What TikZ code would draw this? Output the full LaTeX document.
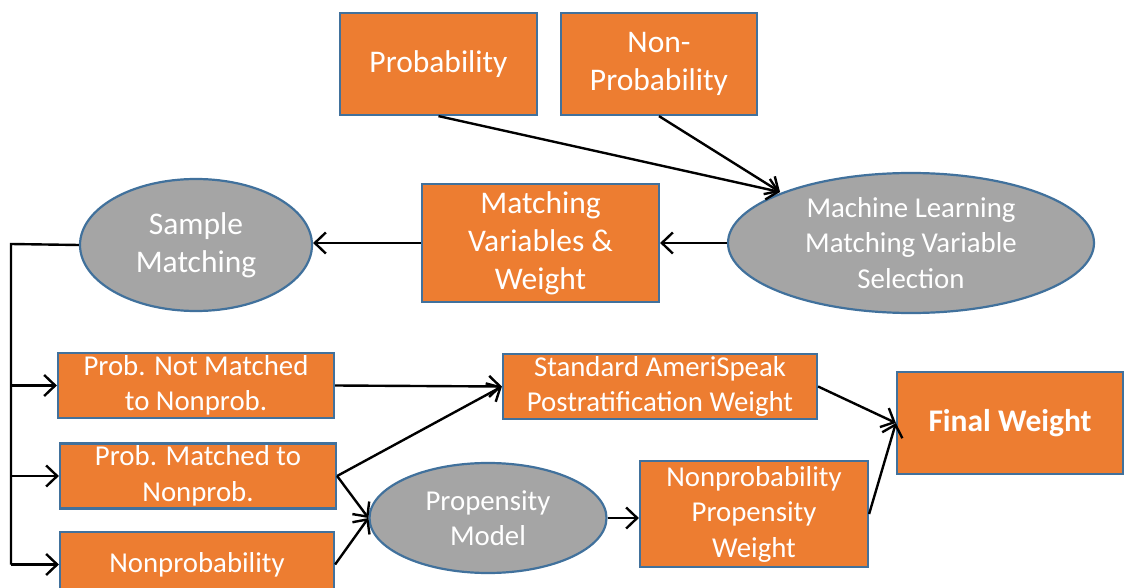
\documentclass[tikz,border=0pt]{standalone}
\usepackage{fontspec}
\setmainfont{Carlito}
\usetikzlibrary{shapes.geometric,arrows.meta}
\definecolor{boxfill}{HTML}{ED7D31}
\definecolor{edgeblue}{HTML}{41719C}
\definecolor{ovalfill}{HTML}{A5A5A5}
\tikzset{
  obox/.style={draw=edgeblue, line width=2.2pt, fill=boxfill, text=white, align=center, inner sep=0pt, rectangle},
  oval/.style={draw=edgeblue, line width=2.2pt, fill=ovalfill, text=white, align=center, inner sep=0pt, ellipse},
  big/.style={font=\fontsize{31.5}{38}\selectfont},
  small/.style={font=\fontsize{28.8}{35.5}\selectfont},
  conn/.style={line width=2.4pt, -{Straight Barb[length=11pt,width=21pt,line width=2.4pt]}},
  plain/.style={line width=2.4pt}
}
\begin{document}
\begin{tikzpicture}[x=1pt,y=-1pt]
\useasboundingbox (0,0) rectangle (1125,588);
\clip (0,0) rectangle (1125,588);
% top nodes
\node[obox,big,minimum width=197pt,minimum height=102pt] (prob) at (438.5,64) {Probability};
\node[obox,big,minimum width=196pt,minimum height=102pt] (nonprob) at (659,64) {Non-\\Probability};
\node[oval,small,minimum width=366pt,minimum height=140pt] (ml) at (911,243) {Machine Learning\\Matching Variable\\Selection};
\node[obox,big,minimum width=237pt,minimum height=118pt] (mvw) at (540.5,243) {Matching\\Variables \&\\Weight};
\node[oval,big,minimum width=232pt,minimum height=132pt] (sm) at (196,245) {Sample\\Matching};
% left column
\node[obox,small,minimum width=276pt,minimum height=65pt] (pnm) at (196,385.5) {Prob. Not Matched\\to Nonprob.};
\node[obox,small,minimum width=276pt,minimum height=65pt] (pm) at (198,476) {Prob. Matched to\\Nonprob.};
\node[obox,small,minimum width=274pt,minimum height=65pt] (np) at (197,564.5) {Nonprobability};
% middle / right
\node[obox,small,minimum width=314pt,minimum height=65pt] (std) at (660,386.5) {Standard AmeriSpeak\\Postratification Weight};
\node[oval,small,minimum width=237pt,minimum height=110pt] (prop) at (488,518) {Propensity\\Model};
\node[obox,small,minimum width=228pt,minimum height=106pt] (npw) at (754,514) {Nonprobability\\Propensity\\Weight};
\node[obox,minimum width=226pt,minimum height=102pt,font=\fontsize{31.5}{38}\selectfont\bfseries] (fw) at (1010,423) {Final Weight};
% connectors
\coordinate (mlin) at (780,192);
\coordinate (bus) at (11,244);
\draw[conn] (prob.south) -- (mlin);
\draw[conn] (nonprob.south) -- (mlin);
\draw[conn] (ml.west) -- (mvw.east);
\draw[conn] (mvw.west) -- (mvw.west -| sm.east);
\draw[plain] (sm.west) -- (bus) -- (bus |- np.west);
\draw[conn] (bus |- pnm.west) -- (pnm.west);
\draw[conn] (bus |- pm.west) -- (pm.west);
\draw[conn] (bus |- np.west) -- (np.west);
\draw[conn] (pnm.east) -- (std.west);
\draw[conn] (pm.east) -- (std.west);
\draw[conn] (pm.east) -- (prop.west);
\draw[conn] (np.east) -- (prop.west);
\draw[conn] (prop.east) -- (prop.east -| npw.west);
\draw[conn] (std.east) -- (fw.west);
\draw[conn] (npw.east) -- (fw.west);
\end{tikzpicture}
\end{document}
